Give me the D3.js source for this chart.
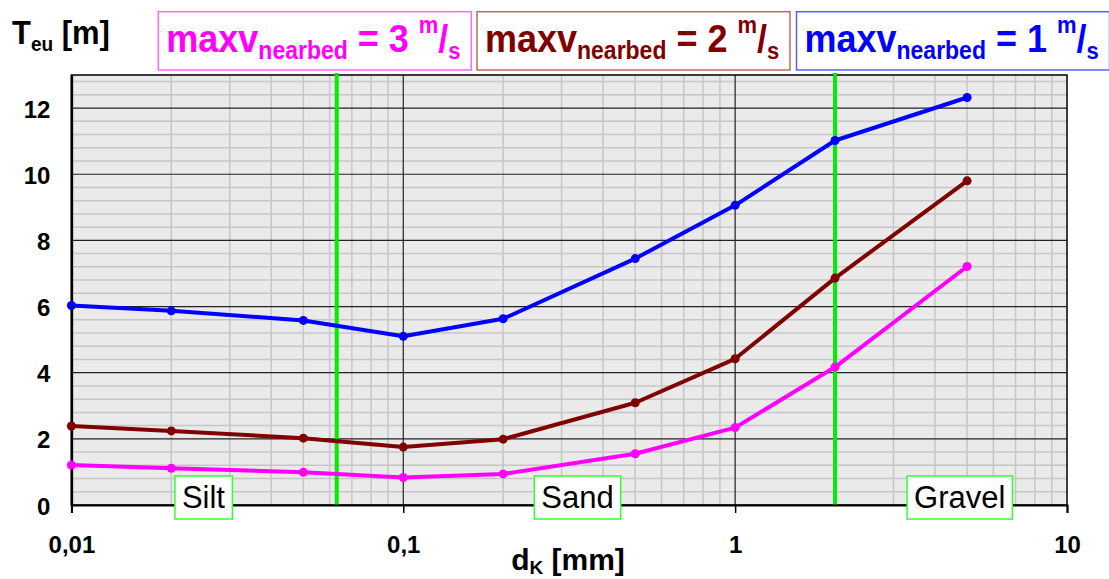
<!DOCTYPE html>
<html>
<head>
<meta charset="utf-8">
<script src="https://cdn.jsdelivr.net/npm/d3@7"></script>
<style>
  html, body { margin: 0; padding: 0; background: #fff; }
  svg { display: block; font-family: "Liberation Sans", Arial, sans-serif; }
</style>
</head>
<body>
<svg id="chart" width="1109" height="579"></svg>
<script>
// ---- data ----
const grainSizes = [0.01, 0.02, 0.05, 0.1, 0.2, 0.5, 1, 2, 5];        // d_K [mm]
const teuV3 = [1.21, 1.11, 0.99, 0.83, 0.94, 1.55, 2.34, 4.17, 7.21];   // maxv = 3 m/s
const teuV2 = [2.39, 2.24, 2.02, 1.75, 1.99, 3.09, 4.42, 6.86, 9.80];   // maxv = 2 m/s
const teuV1 = [6.03, 5.87, 5.58, 5.10, 5.63, 7.45, 9.06, 11.02, 12.32]; // maxv = 1 m/s
const seriesSpeeds = ["3", "2", "1"];
const seriesColors = ["#ff00ff", "#800000", "#0000ff"];
const seriesBorders = ["#ff66ff", "#b86a6a", "#5c5cff"];
const soilBoundaries = [0.063, 2];
const soilNames = ["Silt", "Sand", "Gravel"];
const soilLabelAt = [0.025, 0.335, 4.75];
const xTickValues = [0.01, 0.1, 1, 10];
const yTickValues = [0, 2, 4, 6, 8, 10, 12];

// ---- layout ----
const FONT = "Liberation Sans, Arial, sans-serif";
const svg = d3.select("#chart");
const L = 71.4, R = 1067, T = 75, B = 505;
const x = d3.scaleLog().domain([0.01, 10]).range([L, R]);
const y = d3.scaleLinear().domain([0, 13]).range([B, T]);
const comma = d3.formatLocale({decimal: ",", thousands: ".", grouping: [3], currency: ["", ""]});
const fmt = v => comma.format("~g")(v);

// background
svg.append("rect").attr("x", L).attr("y", T).attr("width", R - L).attr("height", B - T).attr("fill", "#eaeaea");

// minor grid
const minorX = [];
[0.01, 0.1, 1].forEach(d => { for (let k = 2; k <= 9; k++) minorX.push(d * k); });
const minorY = d3.range(1, 33).map(i => +(i * 0.4).toFixed(1)).filter(v => Math.abs(v / 2 - Math.round(v / 2)) > 1e-6);
const grid = svg.append("g");
grid.selectAll(".mx").data(minorX).join("line")
  .attr("x1", d => x(d)).attr("x2", d => x(d)).attr("y1", T).attr("y2", B)
  .attr("stroke", "#c6c6c6").attr("stroke-width", 1.5);
grid.selectAll(".my").data(minorY).join("line")
  .attr("x1", L).attr("x2", R).attr("y1", d => y(d)).attr("y2", d => y(d))
  .attr("stroke", "#c6c6c6").attr("stroke-width", 1.5);
// major grid
grid.selectAll(".Mx").data(xTickValues.slice(1, 3)).join("line")
  .attr("x1", d => x(d)).attr("x2", d => x(d)).attr("y1", T).attr("y2", B)
  .attr("stroke", "#222").attr("stroke-width", 1.2);
grid.selectAll(".My").data(yTickValues.slice(1)).join("line")
  .attr("x1", L).attr("x2", R).attr("y1", d => y(d)).attr("y2", d => y(d))
  .attr("stroke", "#222").attr("stroke-width", 1.2);

// plot border
svg.append("rect").attr("x", L).attr("y", T).attr("width", R - L).attr("height", B - T)
  .attr("fill", "none").attr("stroke", "#000").attr("stroke-width", 1.5);

// soil boundaries
svg.selectAll(".bnd").data(soilBoundaries).join("line")
  .attr("x1", d => x(d)).attr("x2", d => x(d)).attr("y1", T - 2).attr("y2", B)
  .attr("stroke", "#00ee00").attr("stroke-width", 4);

// axes
const xAxis = svg.append("g").attr("transform", `translate(0,${B})`)
  .call(d3.axisBottom(x).tickValues(xTickValues).tickFormat(fmt).tickSize(8));
xAxis.select(".domain").attr("stroke-width", 2);
xAxis.selectAll(".tick line").attr("stroke-width", 1.5);
xAxis.selectAll("text").attr("y", 0).attr("dy", 0).attr("transform", "translate(0,48)")
  .attr("font-size", 24).attr("font-weight", "bold").attr("fill", "#000").attr("font-family", FONT);

const yAxis = svg.append("g").attr("transform", `translate(${L},0)`)
  .call(d3.axisLeft(y).tickValues(yTickValues).tickSize(0));
yAxis.select(".domain").attr("stroke-width", 2.5);
yAxis.selectAll("text").attr("x", 0).attr("dy", 0).attr("transform", "translate(-21,9)")
  .attr("font-size", 24).attr("font-weight", "bold").attr("fill", "#000").attr("font-family", FONT);

// soil labels
soilNames.forEach((name, i) => {
  const g = svg.append("g");
  const t = g.append("text").attr("x", x(soilLabelAt[i])).attr("y", 508)
    .attr("text-anchor", "middle").attr("font-size", 31).attr("fill", "#000").text(name);
  const bb = t.node().getBBox();
  g.insert("rect", "text").attr("x", bb.x - 7).attr("y", 476).attr("width", bb.width + 14).attr("height", 43)
    .attr("fill", "#fff").attr("stroke", "#33ff33").attr("stroke-width", 1.5);
});

// series
const series = [teuV3, teuV2, teuV1];
const line = d3.line().x((d, i) => x(grainSizes[i])).y(d => y(d));
series.forEach((vals, s) => {
  svg.append("path").datum(vals).attr("d", line).attr("fill", "none")
    .attr("stroke", seriesColors[s]).attr("stroke-width", 4).attr("stroke-linejoin", "round");
  svg.selectAll(".pt" + s).data(vals).join("circle")
    .attr("cx", (d, i) => x(grainSizes[i])).attr("cy", d => y(d)).attr("r", 4.5)
    .attr("fill", seriesColors[s]);
});

// legend boxes
const boxX = [158.3, 477, 796.5], boxW = 313;
seriesSpeeds.forEach((sp, i) => {
  const g = svg.append("g");
  g.append("rect").attr("x", boxX[i]).attr("y", 11.7).attr("width", boxW).attr("height", 58.3)
    .attr("fill", "#fff").attr("stroke", seriesBorders[i]).attr("stroke-width", 1.5);
  const t = g.append("text").attr("transform", `translate(${boxX[i] + 8},52) scale(1,1.1)`)
    .attr("fill", seriesColors[i]).attr("font-weight", "bold").attr("font-size", 36);
  t.append("tspan").text("maxv");
  t.append("tspan").attr("font-size", 23).attr("dy", 6.5).text("nearbed");
  t.append("tspan").attr("dy", -6.5).text(" = " + sp + " ");
  t.append("tspan").attr("font-size", 22).attr("dy", -17).text("m");
  t.append("tspan").attr("dy", 17).text("/");
  t.append("tspan").attr("font-size", 22).attr("dy", 6.5).text("s");
});

// axis titles
const yt = svg.append("text").attr("transform", "translate(12,43.5) scale(1,1.05)")
  .attr("font-weight", "bold").attr("font-size", 31).attr("fill", "#000");
yt.append("tspan").text("T");
yt.append("tspan").attr("font-size", 19).attr("dy", 7).text("eu");
yt.append("tspan").attr("dy", -7).text(" [m]");

const xt = svg.append("text").attr("x", 568).attr("y", 570).attr("text-anchor", "middle")
  .attr("font-weight", "bold").attr("font-size", 30).attr("fill", "#000");
xt.append("tspan").text("d");
xt.append("tspan").attr("font-size", 19).attr("dy", 4).text("K");
xt.append("tspan").attr("dy", -4).text(" [mm]");
</script>
</body>
</html>
